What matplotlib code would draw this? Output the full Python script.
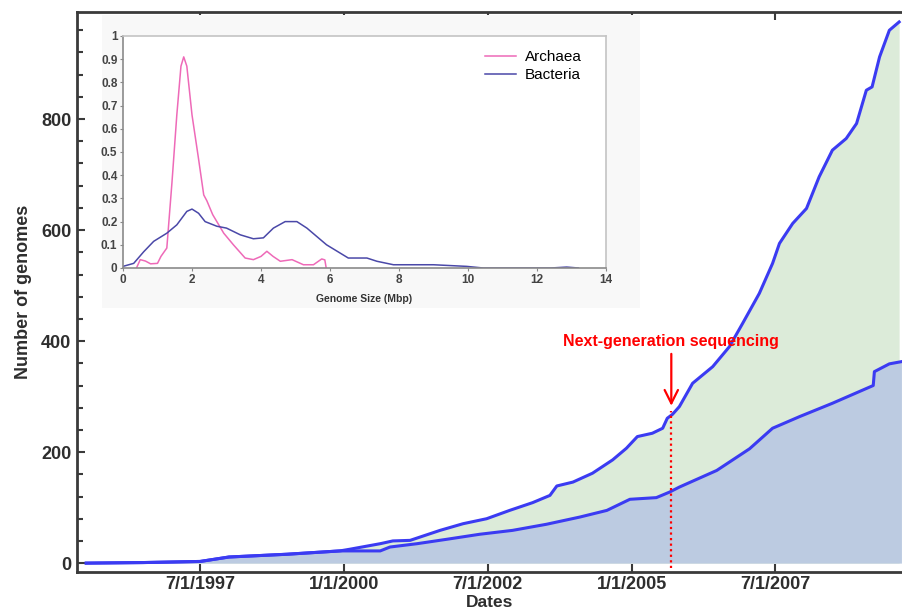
import numpy as np
import matplotlib.pyplot as plt
from matplotlib.patches import Rectangle
from matplotlib.ticker import MultipleLocator

# ============================================================
# DATA
# ============================================================

# Cumulative number of sequenced genomes, all (upper curve)
TOTAL_YEARS = [1995.52, 1996.5, 1997.5, 1998.0, 1999.01, 1999.93, 2000.10,
               2000.63, 2000.85, 2001.15, 2001.67, 2002.07, 2002.48, 2002.88,
               2003.28, 2003.58, 2003.70, 2003.98, 2004.32, 2004.67, 2004.91,
               2005.10, 2005.36, 2005.54, 2005.62, 2005.71, 2005.83, 2006.06,
               2006.41, 2006.70, 2006.93, 2007.22, 2007.45, 2007.57, 2007.80,
               2008.04, 2008.26, 2008.49, 2008.73, 2008.91, 2009.08, 2009.18,
               2009.31, 2009.48, 2009.65]
TOTAL_COUNT = [0, 1, 3, 11, 16, 22, 25,
               35, 40, 41, 59, 71, 80, 95,
               109, 122, 139, 146, 162, 186, 207,
               228, 234, 243, 261, 268, 282, 324,
               354, 390, 432, 486, 540, 576, 612,
               639, 696, 744, 765, 792, 852, 858,
               912, 960, 975]

# Lower curve
LOWER_YEARS = [1995.52, 1996.5, 1997.5, 1998.0, 1999.01, 1999.93, 2000.63,
               2000.80, 2001.27, 2001.79, 2002.36, 2002.93, 2003.52, 2004.10,
               2004.57, 2004.97, 2005.43, 2005.66, 2005.83, 2006.48, 2007.05,
               2007.45, 2007.92, 2008.49, 2009.20, 2009.22, 2009.48, 2009.69]
LOWER_COUNT = [0, 1, 3, 11, 16, 22, 22,
               29, 35, 43, 52, 59, 70, 83,
               95, 115, 118, 128, 137, 167, 206,
               243, 264, 288, 320, 345, 359, 363]

# Inset: genome size distributions
ARCHAEA_SIZE = [0.39, 0.5, 0.65, 0.8, 1.0, 1.1, 1.27, 1.42, 1.56, 1.68,
                1.76, 1.85, 2.0, 2.19, 2.34, 2.43, 2.6, 2.92, 3.2, 3.54,
                3.78, 4.0, 4.17, 4.35, 4.56, 4.9, 5.23, 5.52, 5.76, 5.85,
                5.89]
ARCHAEA_DENS = [0.0, 0.036, 0.03, 0.018, 0.02, 0.05, 0.086, 0.37, 0.66, 0.87,
                0.91, 0.87, 0.66, 0.47, 0.315, 0.29, 0.23, 0.15, 0.1, 0.043,
                0.036, 0.05, 0.072, 0.05, 0.029, 0.036, 0.014, 0.014, 0.039,
                0.035, 0.0]

BACTERIA_SIZE = [0.0, 0.31, 0.6, 0.89, 1.27, 1.56, 1.85, 2.0, 2.19, 2.38,
                 2.72, 3.0, 3.4, 3.78, 4.07, 4.36, 4.7, 5.04, 5.33, 5.9,
                 6.53, 7.07, 7.36, 7.84, 8.5, 9.0, 9.96, 10.44, 12.4, 12.86,
                 13.2]
BACTERIA_DENS = [0.007, 0.02, 0.07, 0.115, 0.15, 0.186, 0.244, 0.254, 0.236, 0.2,
                 0.18, 0.172, 0.143, 0.126, 0.13, 0.172, 0.2, 0.2, 0.172, 0.1,
                 0.043, 0.043, 0.029, 0.014, 0.014, 0.014, 0.007, 0.0, 0.0, 0.004,
                 0.0]

# Axis ticks
DATE_TICKS = [1997.5, 2000.0, 2002.5, 2005.0, 2007.5]
DATE_LABELS = ["7/1/1997", "1/1/2000", "7/1/2002", "1/1/2005", "7/1/2007"]
NGS_YEAR = 2005.69

# ============================================================
# STYLE
# ============================================================
LINE_BLUE = "#3b3bf2"
GREEN_FILL = "#dcebd9"
BLUE_FILL = "#bccbe1"
SPINE_COLOR = "#3a3a3a"
TEXT_COLOR = "#2e2e2e"

plt.rcParams["font.family"] = ["Liberation Sans", "DejaVu Sans"]

fig = plt.figure(figsize=(9.02, 6.14), dpi=100)
ax = fig.add_axes([0.0854, 0.0684, 0.9146, 0.9121])

ax.fill_between(TOTAL_YEARS, 0, TOTAL_COUNT, color=GREEN_FILL, lw=0)
ax.fill_between(LOWER_YEARS, 0, LOWER_COUNT, color=BLUE_FILL, lw=0)
ax.plot(TOTAL_YEARS, TOTAL_COUNT, color=LINE_BLUE, lw=2.2)
ax.plot(LOWER_YEARS, LOWER_COUNT, color=LINE_BLUE, lw=2.2)

# Next-generation sequencing marker
ngs_y = np.interp(NGS_YEAR, TOTAL_YEARS, TOTAL_COUNT)
ax.plot([NGS_YEAR, NGS_YEAR], [-8, ngs_y + 8], color="red", lw=1.6,
        ls=(0, (1, 1.5)))
ax.annotate("", xy=(NGS_YEAR, ngs_y + 12), xytext=(NGS_YEAR, 382),
            arrowprops=dict(arrowstyle="->", color="red", lw=1.6,
                            mutation_scale=24))
ax.text(NGS_YEAR, 400, "Next-generation sequencing", color="red",
        fontsize=11.5, fontweight="bold", ha="center", va="center")

ax.set_xlim(1995.36, 2009.7)
ax.set_ylim(-16, 993)
ax.set_xticks(DATE_TICKS)
ax.set_xticklabels(DATE_LABELS)
ax.yaxis.set_major_locator(MultipleLocator(200))
ax.yaxis.set_minor_locator(MultipleLocator(40))
ax.tick_params(axis="both", which="both", direction="in", colors=SPINE_COLOR,
               labelcolor=TEXT_COLOR, labelsize=13, width=1.5)
ax.tick_params(axis="x", which="major", length=6, top=True, pad=3)
ax.tick_params(axis="y", which="major", length=6, pad=4)
ax.tick_params(axis="y", which="minor", length=4)
for lbl in ax.get_xticklabels() + ax.get_yticklabels():
    lbl.set_fontweight("bold")
for side in ["left", "bottom", "top"]:
    ax.spines[side].set_color(SPINE_COLOR)
    ax.spines[side].set_linewidth(2)
ax.spines["right"].set_visible(False)

ax.set_xlabel("Dates", fontsize=12.5, fontweight="bold", color=TEXT_COLOR,
              labelpad=1)
ax.set_ylabel("Number of genomes", fontsize=13, fontweight="bold",
              color=TEXT_COLOR, labelpad=7)

# ============================================================
# INSET
# ============================================================
fig.patches.append(Rectangle((102 / 902, 1 - 308 / 614), 538 / 902, 293 / 614,
                             transform=fig.transFigure, facecolor="#f8f8f8",
                             edgecolor="none", zorder=2))

ins = fig.add_axes([123 / 902, 1 - 268 / 614, 483 / 902, 232 / 614])
ins.set_zorder(3)
ins.set_facecolor("white")
ins.plot(ARCHAEA_SIZE, ARCHAEA_DENS, color="#ee6ab8", lw=1.1, label="Archaea")
ins.plot(BACTERIA_SIZE, BACTERIA_DENS, color="#4a48a8", lw=1.1, label="Bacteria")
ins.set_xlim(0, 14)
ins.set_ylim(0, 1)
ins.set_xticks(np.arange(0, 15, 2))
ins.set_yticks(np.arange(0, 1.01, 0.1))
ins.set_yticklabels(["0", "0.1", "0.2", "0.3", "0.4", "0.5", "0.6", "0.7",
                     "0.8", "0.9", "1"])
ins.tick_params(axis="both", direction="out", length=2, colors="#888888",
                labelcolor="#444444", labelsize=8.5, pad=2)
for lbl in ins.get_xticklabels() + ins.get_yticklabels():
    lbl.set_fontweight("bold")
for side in ["left", "bottom"]:
    ins.spines[side].set_color("#8a8a8a")
    ins.spines[side].set_linewidth(1.2)
for side in ["top", "right"]:
    ins.spines[side].set_color("#c4c4c4")
    ins.spines[side].set_linewidth(1.2)
ins.set_xlabel("Genome Size (Mbp)", fontsize=7.5, fontweight="bold",
               color="#333333", labelpad=6)
leg = ins.legend(loc="upper right", bbox_to_anchor=(0.963, 0.965),
                 fontsize=11, frameon=False, handlelength=2.0,
                 handletextpad=0.6, borderaxespad=0, labelspacing=0.25)

fig.savefig("out.png", dpi=100)
